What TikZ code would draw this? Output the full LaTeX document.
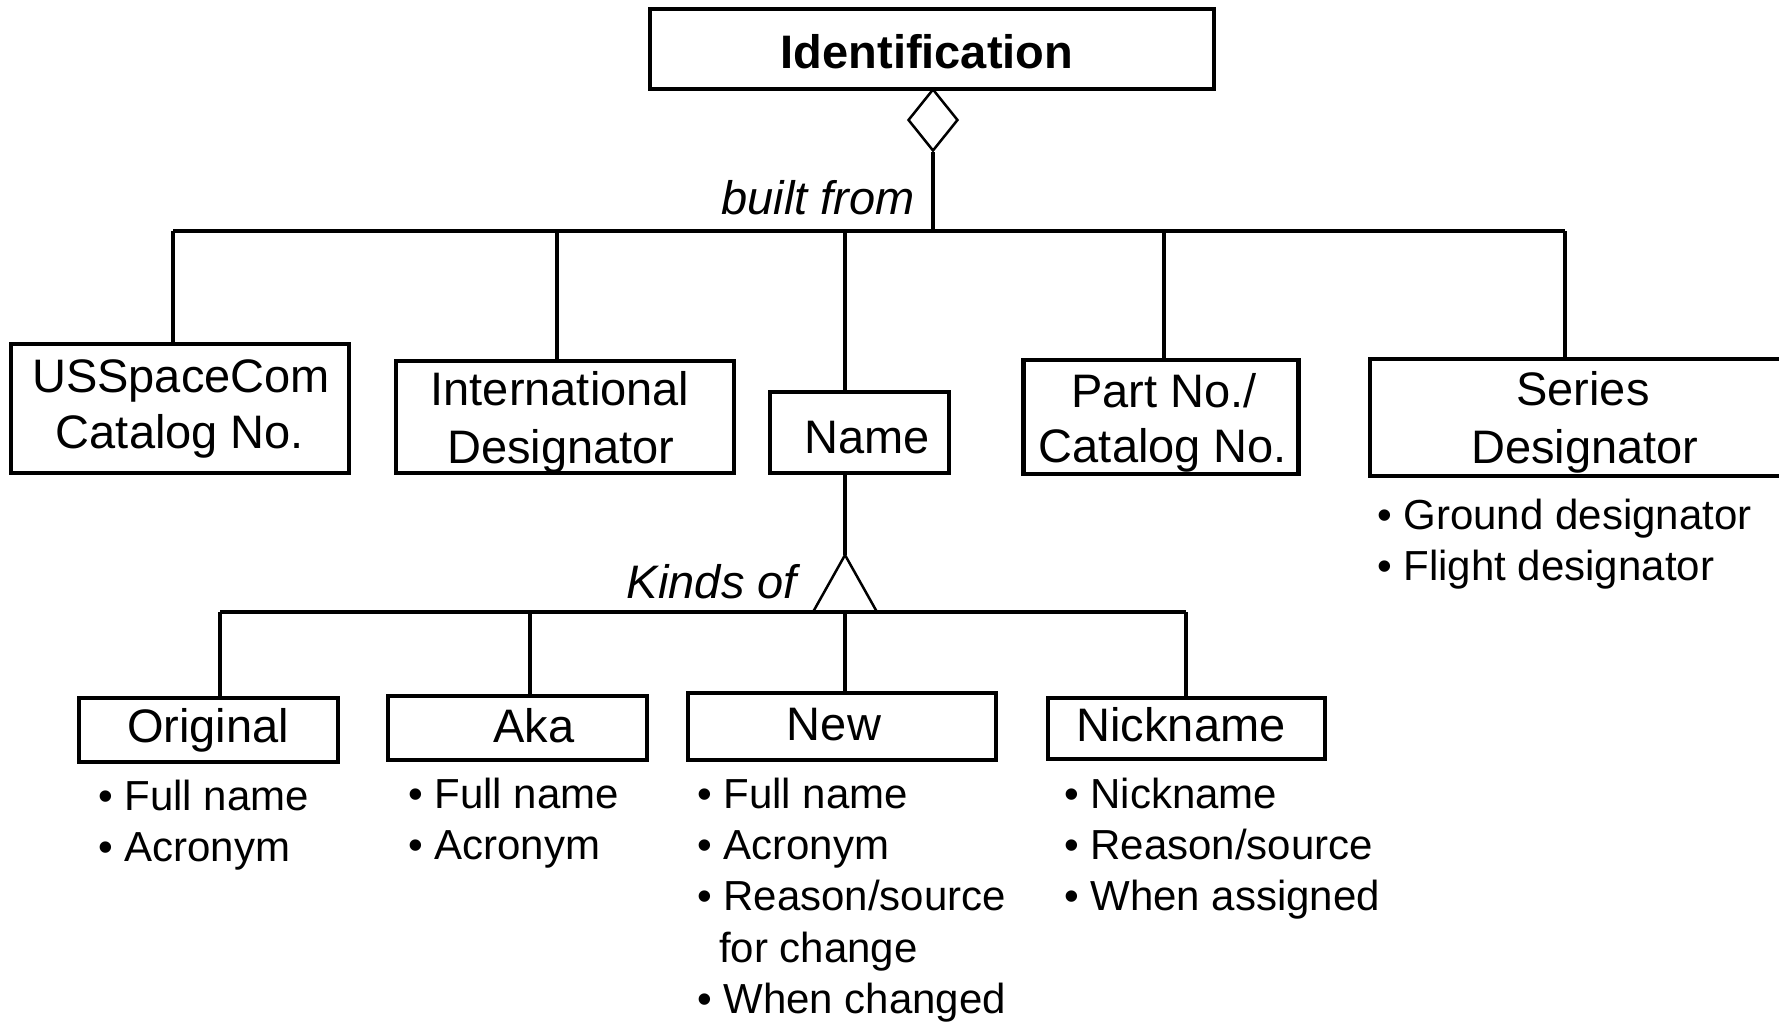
\documentclass[tikz,border=0pt]{standalone}
\usepackage{fontspec}
\setmainfont{Liberation Sans}
\usetikzlibrary{shapes.geometric}
\newcommand\lblfont{\fontsize{47}{56}\selectfont}
\newcommand\entfont{\fontsize{42}{51.5}\selectfont}
\tikzset{
  box/.style={draw, line width=4.5pt, inner sep=0pt},
  link/.style={line width=3.5pt},
  thinlink/.style={line width=2.5pt, line join=miter},
  lbl/.style={font=\lblfont, inner sep=0pt, anchor=base},
  tag/.style={font=\lblfont\itshape, inner sep=0pt, anchor=base east},
  entry/.style={font=\entfont, inner sep=0pt, anchor=base west},
}
\begin{document}
\begin{tikzpicture}[x=1pt,y=-1pt]
\useasboundingbox (0,0) rectangle (1779,1021);
\clip (0,0) rectangle (1779,1021);

% ---- top class ----
\node[box, minimum width=564pt, minimum height=80pt] (ident) at (932,49) {};
\node[lbl, font=\lblfont\bfseries] (identtxt) at (927,68) {Identification};

% aggregation diamond
\node[diamond, draw, line width=2.5pt, inner sep=0pt, minimum width=50pt, minimum height=62pt] (agg) at (933,120) {};

% ---- first level boxes ----
\node[box, minimum width=338pt, minimum height=129pt] (ussc) at (180,408.5) {};
\node[box, minimum width=338pt, minimum height=112pt] (intl) at (565,417) {};
\node[box, minimum width=179pt, minimum height=81pt] (name) at (859.5,432.5) {};
\node[box, minimum width=275pt, minimum height=114pt] (part) at (1161,417) {};
\node[box, minimum width=440pt, minimum height=117pt] (series) at (1590,417.5) {};

\node[lbl] (ussc1) at (181,392) {USSpaceCom};
\node[lbl] (ussc2) at (180,448) {Catalog No.};
\node[lbl] (intl1) at (560,405) {International};
\node[lbl] (intl2) at (561,463) {Designator};
\node[lbl] (name1) at (867,453) {Name};
\node[lbl] (part1) at (1164,407) {Part No./};
\node[lbl] (part2) at (1163,462) {Catalog No.};
\node[lbl] (ser1) at (1583,405) {Series};
\node[lbl] (ser2) at (1585,463) {Designator};

\node[entry] (ser-a) at (1377,529) {• Ground designator};
\node[entry] (ser-b) at (1377,580) {• Flight designator};

% ---- "built from" bus ----
\node[tag] (built) at (915,214) {built from};
\coordinate (bt-agg) at (933,231);
\coordinate (bt-ussc) at (173,231);
\coordinate (bt-intl) at (557,231);
\coordinate (bt-name) at (845,231);
\coordinate (bt-part) at (1164,231);
\coordinate (bt-series) at (1565,231);
\draw[link] (agg.south) -- (bt-agg);
\draw[link] (bt-ussc) -- (bt-series);
\draw[link] (bt-ussc) -- (bt-ussc |- ussc.north);
\draw[link] (bt-intl) -- (bt-intl |- intl.north);
\draw[link] (bt-name) -- (bt-name |- name.north);
\draw[link] (bt-part) -- (bt-part |- part.north);
\draw[link] (bt-series) -- (bt-series |- series.north);

% ---- generalisation triangle ----
\coordinate (tri-top) at (845,555);
\coordinate (tri-l) at (813,612);
\coordinate (tri-r) at (877,612);
\draw[link] (tri-top |- name.south) -- (tri-top);
\draw[thinlink] (tri-l) -- (tri-top) -- (tri-r);
\node[tag] (kinds) at (797,598) {Kinds of};

% ---- second level boxes ----
\node[box, minimum width=259pt, minimum height=64pt] (orig) at (208.5,730) {};
\node[box, minimum width=259pt, minimum height=64pt] (aka) at (517.5,728) {};
\node[box, minimum width=308pt, minimum height=67pt] (new) at (842,726.5) {};
\node[box, minimum width=277pt, minimum height=61pt] (nick) at (1186.5,728.5) {};

\node[lbl] (orig1) at (208,742) {Original};
\node[lbl] (aka1) at (534,742) {Aka};
\node[lbl] (new1) at (834,740) {New};
\node[lbl] (nick1) at (1181,741) {Nickname};

\coordinate (bk-orig) at (220,612);
\coordinate (bk-aka) at (530,612);
\coordinate (bk-new) at (845,612);
\coordinate (bk-nick) at (1186,612);
\draw[link] (bk-orig) -- (bk-nick);
\draw[link] (bk-orig) -- (bk-orig |- orig.north);
\draw[link] (bk-aka) -- (bk-aka |- aka.north);
\draw[link] (bk-new) -- (bk-new |- new.north);
\draw[link] (bk-nick) -- (bk-nick |- nick.north);

% ---- attribute lists ----
\node[entry] (orig-a) at (98,810) {• Full name};
\node[entry] (orig-b) at (98,861) {• Acronym};

\node[entry] (aka-a) at (408,808) {• Full name};
\node[entry] (aka-b) at (408,859) {• Acronym};

\node[entry] (new-a) at (697,808) {• Full name};
\node[entry] (new-b) at (697,859) {• Acronym};
\node[entry] (new-c) at (697,910) {• Reason/source};
\node[entry] (new-d) at (719,962) {for change};
\node[entry] (new-e) at (697,1013) {• When changed};

\node[entry] (nick-a) at (1064,808) {• Nickname};
\node[entry] (nick-b) at (1064,859) {• Reason/source};
\node[entry] (nick-c) at (1064,910) {• When assigned};
\end{tikzpicture}
\end{document}
